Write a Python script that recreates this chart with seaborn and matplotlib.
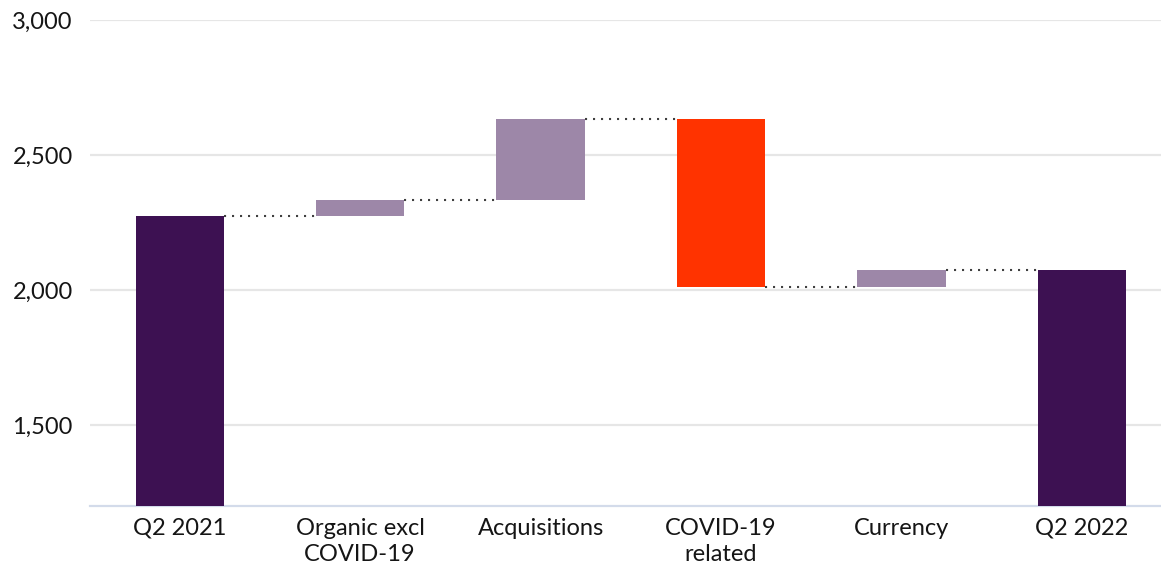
import matplotlib
matplotlib.use("Agg")
import matplotlib.pyplot as plt
import seaborn as sns

# Waterfall: Q2 2021 -> Q2 2022 bridge
categories = ["Q2 2021", "Organic excl\nCOVID-19", "Acquisitions", "COVID-19\nrelated", "Currency", "Q2 2022"]
start_value = 2275
changes = [60, 297, -621, 63]
end_value = 2074
y_ticks = [1500, 2000, 2500, 3000]

DARK = "#3d1152"
LIGHT = "#9d87a8"
RED = "#ff3300"

sns.set_theme(style="white")
plt.rcParams["font.family"] = ["Lato", "DejaVu Sans"]

# running totals for each step
levels = [start_value]
for c in changes:
    levels.append(levels[-1] + c)
bottoms = [0] + [min(levels[i], levels[i + 1]) for i in range(len(changes))] + [0]
heights = [start_value] + [abs(c) for c in changes] + [end_value]
colors = [DARK] + [RED if c < 0 else LIGHT for c in changes] + [DARK]

fig = plt.figure(figsize=(11.61, 5.66), dpi=100)
ax = fig.add_axes([89.5 / 1161, 60 / 566, 1073.5 / 1161, 486 / 566])

BAR_W = 0.49
sns.barplot(x=categories, y=heights, bottom=bottoms, color=DARK, width=BAR_W,
            errorbar=None, ax=ax, zorder=3, linewidth=0)
for patch, col in zip(ax.patches, colors):
    patch.set_facecolor(col)

# dotted connectors between consecutive bars
for i, lvl in enumerate(levels):
    ax.plot([i + BAR_W / 2, i + 1 - BAR_W / 2], [lvl, lvl], linestyle=(0, (1, 2.84)),
            color="#404040", linewidth=1.5, zorder=4, dash_capstyle="butt")

ax.set_ylim(1200, 3000)
ax.set_xlim(-0.5, 5.45)
ax.set_yticks(y_ticks)
ax.set_yticklabels([f"{v:,}" for v in y_ticks])
ax.yaxis.grid(True, color="#e6e6e6", linewidth=1.6, zorder=0)
ax.set_axisbelow(True)

for s in ["left", "right", "top"]:
    ax.spines[s].set_visible(False)
ax.spines["bottom"].set_color("#d3dbea")
ax.spines["bottom"].set_linewidth(1.6)

ax.tick_params(axis="y", length=0, pad=12, labelsize=17, labelcolor="#151515")
ax.tick_params(axis="x", length=0, pad=8.5, labelsize=17, labelcolor="#151515")
for lbl in ax.get_xticklabels():
    lbl.set_linespacing(1.32)
ax.set_xlabel("")
ax.set_ylabel("")

fig.savefig("out.png", dpi=100, facecolor="white")
